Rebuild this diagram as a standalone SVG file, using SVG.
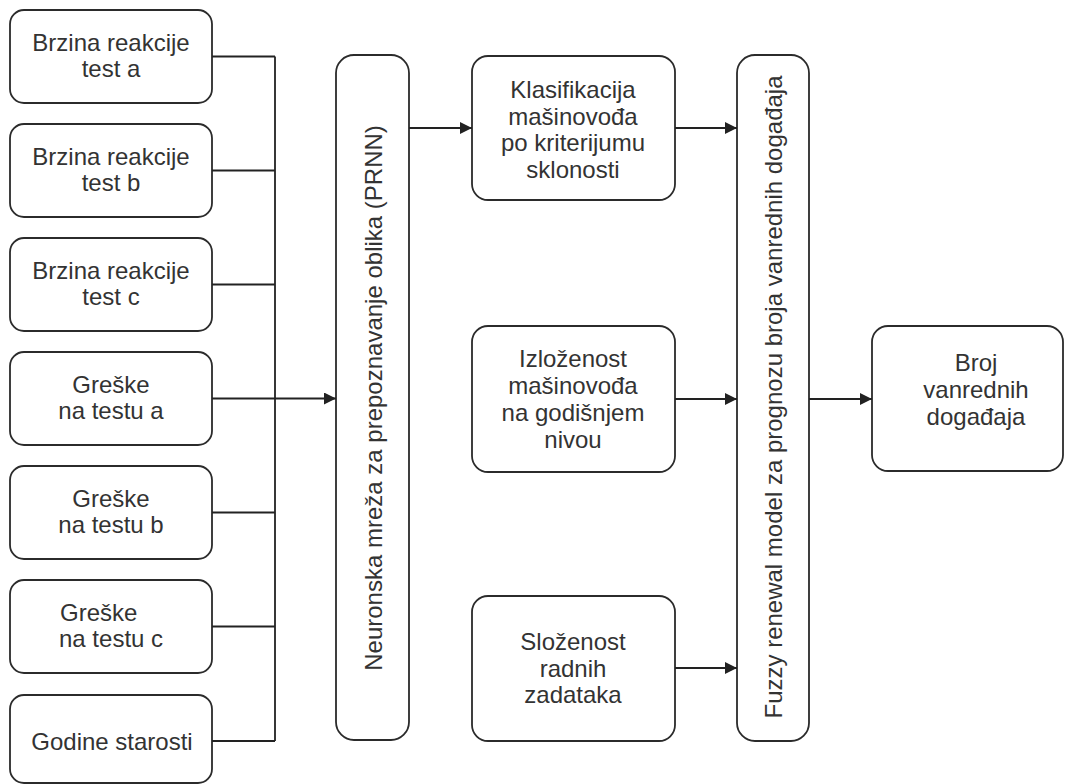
<svg xmlns="http://www.w3.org/2000/svg" width="1065" height="784" viewBox="0 0 1065 784">
  <defs>
    <marker id="arrow" viewBox="0 0 12 12" refX="12" refY="6" markerWidth="12" markerHeight="12" markerUnits="userSpaceOnUse" orient="auto">
      <path d="M0,0 L12,6 L0,12 Z" fill="#222"/>
    </marker>
    <style>
      .box { fill: #fff; stroke: #2b2b2b; stroke-width: 1.8; }
      .lbl { font-family: "Liberation Sans", Arial, sans-serif; font-size: 24px; fill: #333; text-anchor: middle; }
      .lbl-left { text-anchor: start; }
      .wire { fill: none; stroke: #222; stroke-width: 1.8; }
      .arr { marker-end: url(#arrow); }
    </style>
  </defs>
  <rect width="1065" height="784" fill="#fff"/>

  <!-- input factors -->
  <g id="brzina-a">
    <rect class="box" x="10" y="10" width="202" height="93" rx="14"/>
    <text class="lbl" x="111" y="51">Brzina reakcije</text>
    <text class="lbl" x="111" y="77">test a</text>
  </g>
  <g id="brzina-b">
    <rect class="box" x="10" y="124" width="202" height="93" rx="14"/>
    <text class="lbl" x="111" y="165">Brzina reakcije</text>
    <text class="lbl" x="111" y="191">test b</text>
  </g>
  <g id="brzina-c">
    <rect class="box" x="10" y="238" width="202" height="93" rx="14"/>
    <text class="lbl" x="111" y="279">Brzina reakcije</text>
    <text class="lbl" x="111" y="305">test c</text>
  </g>
  <g id="greske-a">
    <rect class="box" x="10" y="352" width="202" height="93" rx="14"/>
    <text class="lbl" x="111" y="393">Greške</text>
    <text class="lbl" x="111" y="419">na testu a</text>
  </g>
  <g id="greske-b">
    <rect class="box" x="10" y="466" width="202" height="93" rx="14"/>
    <text class="lbl" x="111" y="507">Greške</text>
    <text class="lbl" x="111" y="533">na testu b</text>
  </g>
  <g id="greske-c">
    <rect class="box" x="10" y="580" width="202" height="93" rx="14"/>
    <text class="lbl lbl-left" x="60" y="621">Greške</text>
    <text class="lbl lbl-left" x="59" y="647">na testu c</text>
  </g>
  <g id="godine">
    <rect class="box" x="10" y="695" width="202" height="88" rx="14"/>
    <text class="lbl" x="112" y="750">Godine starosti</text>
  </g>

  <!-- neural network stage -->
  <g id="prnn">
    <rect class="box" x="336" y="55" width="73" height="685" rx="18"/>
    <text class="lbl" transform="translate(382,398) rotate(-90)">Neuronska mreža za prepoznavanje oblika (PRNN)</text>
  </g>

  <!-- intermediate factors -->
  <g id="klasifikacija">
    <rect class="box" x="472" y="56" width="203" height="144" rx="16"/>
    <text class="lbl" x="573" y="98">Klasifikacija</text>
    <text class="lbl" x="573" y="124.5">mašinovođa</text>
    <text class="lbl" x="573" y="151">po kriterijumu</text>
    <text class="lbl" x="573" y="177.5">sklonosti</text>
  </g>
  <g id="izlozenost">
    <rect class="box" x="472" y="326" width="203" height="146" rx="16"/>
    <text class="lbl" x="573" y="367">Izloženost</text>
    <text class="lbl" x="573" y="394">mašinovođa</text>
    <text class="lbl" x="573" y="421">na godišnjem</text>
    <text class="lbl" x="573" y="448">nivou</text>
  </g>
  <g id="slozenost">
    <rect class="box" x="472" y="596" width="203" height="145" rx="16"/>
    <text class="lbl" x="573" y="650">Složenost</text>
    <text class="lbl" x="573" y="676.5">radnih</text>
    <text class="lbl" x="573" y="703">zadataka</text>
  </g>

  <!-- fuzzy model stage -->
  <g id="fuzzy">
    <rect class="box" x="737" y="55" width="72" height="686" rx="18"/>
    <text class="lbl" transform="translate(782,397) rotate(-90)">Fuzzy renewal model za prognozu broja vanrednih događaja</text>
  </g>

  <!-- output -->
  <g id="broj">
    <rect class="box" x="872" y="326" width="191" height="145" rx="16"/>
    <text class="lbl" x="976" y="371">Broj</text>
    <text class="lbl" x="976" y="398">vanrednih</text>
    <text class="lbl" x="976" y="425">događaja</text>
  </g>

  <!-- connectors -->
  <g id="connectors">
    <path class="wire" d="M212,56.5 H275 M212,170.5 H275 M212,284.5 H275 M212,398.5 H275 M212,512.5 H275 M212,626.5 H275 M212,741 H275 M275,56.5 V741"/>
    <path class="wire arr" d="M275,398.5 H336"/>
    <path class="wire arr" d="M409,128 H472"/>
    <path class="wire arr" d="M675,128 H737"/>
    <path class="wire arr" d="M675,399 H737"/>
    <path class="wire arr" d="M675,668 H737"/>
    <path class="wire arr" d="M809,399 H872"/>
  </g>
</svg>
